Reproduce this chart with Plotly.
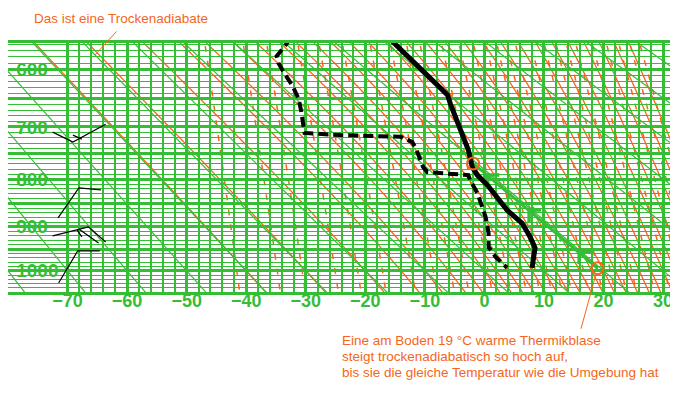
import numpy as np
import plotly.graph_objects as go

KAPPA = 0.286

# ---------------- data ----------------
# measured temperature profile (solid black)
temp_T = [-16.1, -10.4, -6.2, -5.7, -2.7, -2.05, -1.2, 0.5, 3.8, 6.3, 7.7, 8.5, 8.0]
temp_p = [550, 601, 643, 659, 743, 776, 792, 812, 864, 892, 923, 947, 993]

# dew point profile (dashed black)
dew_T = [-32.5, -33.1, -34.9, -34.6, -33.7, -32.2, -31.2, -30.8, -30.2, -24.2, -14.1,
         -12.1, -11.4, -10.3, -9.6, -2.7, -2.4, -1.2, 0.2, 0.7, 0.7, 1.9, 3.8]
dew_p = [550, 558, 579, 590, 605, 628, 650, 670, 711, 715, 718,
         728, 743, 776, 786, 792, 802, 828, 879, 914, 945, 968, 993]

# rising thermal (green arrow line) and its two marked points
parcel_T = [19.0, -1.9]
parcel_p = [994, 769]
# corners of the three arrow heads along the parcel line
arrow_T = [15.9, 7.5, 0.5]
arrow_p = [957, 864, 792]

# wind barbs (thin black polylines)
barb_T = [[-72.5, -69.1, -63.6], [-69.1, -67.6],
          [-71.6, -68.1, -64.4],
          [-72.5, -66.5, -63.6], [-68.1, -64.8], [-68.4, -67.6],
          [-71.5, -68.3, -64.6]]
barb_p = [[709.5, 728, 695], [715, 722.4],
          [880.6, 817.6, 821.7],
          [920.1, 900.3, 933.6], [904.7, 935.8], [906.9, 922.4],
          [1029, 954, 954]]

# axes
x_ticks = [-70, -60, -50, -40, -30, -20, -10, 0, 10, 20, 30]
p_labels = [600, 700, 800, 900, 1000]
p_major = list(range(550, 1051, 50))
p_minor = [p for p in range(560, 1050, 10) if p % 50]

# diagram reference lines
dry_theta_C = list(range(-80, 101, 10))
moist_T1000 = [-40, -30, -20, -14, -10, -6, -3, 0, 2, 4, 6, 8, 10, 12, 14, 16, 18,
               20, 22, 24, 26, 28, 30, 32, 34, 36, 38, 40]
mixing_ratio = [0.1, 0.2, 0.3, 0.5, 0.7, 1, 1.5, 2, 2.5, 3, 4, 5, 6, 7, 8, 9, 10,
                12, 14, 16, 18, 20, 24, 28, 32, 36, 40]

note_T, note_p = -65.4, 577   # point on the dry adiabat the label points at

GREEN = "#35bd35"
ORANGE = "#f5661c"
FONT = "Liberation Sans"

X_RANGE = [-80, 32]
Y_RANGE = [7.3142, 6.1034]


def Y(p):
    return np.asarray(p, dtype=float) ** KAPPA


# ---------------- thermodynamics for the background lines ----------------
def sat_mix(Tk, p):
    e = 6.112 * np.exp(17.67 * (Tk - 273.15) / (Tk - 29.65))
    return 0.622 * e / (p - e)


def dTdp(Tk, p):
    rs = sat_mix(Tk, p)
    return (287.04 * Tk + 2.501e6 * rs) / p / (1005.7 + 2.501e6 ** 2 * rs * 0.622 / (287.04 * Tk ** 2))


def moist_line(T1000):
    out = {}
    for p_end, h in ((540.0, -2.0), (1060.0, 2.0)):
        T, p = T1000 + 273.15, 1000.0
        out[p] = T
        while (p > p_end) if h < 0 else (p < p_end):
            k1 = dTdp(T, p)
            k2 = dTdp(T + h * k1 / 2, p + h / 2)
            k3 = dTdp(T + h * k2 / 2, p + h / 2)
            k4 = dTdp(T + h * k3, p + h)
            T += h * (k1 + 2 * k2 + 2 * k3 + k4) / 6
            p += h
            out[p] = T
    ps = np.array(sorted(out))
    Ts = np.array([out[q] for q in ps]) - 273.15
    return Ts, ps


def path(Ts, ps):
    ys = Y(ps)
    return "M" + " L".join(f"{t:.4f},{y:.5f}" for t, y in zip(Ts, ys))


shapes = []
p_line = np.arange(540, 1062, 4.0)
# mixing ratio lines (dashed orange)
for w in mixing_ratio:
    e = w * p_line / (622.0 + w)
    le = np.log(e / 6.112)
    Td = 243.5 * le / (17.67 - le)
    shapes.append(dict(type="path", xref="x", yref="y", layer="below", path=path(Td, p_line),
                       line=dict(color=ORANGE, width=1.5, dash="6px,9px")))
# moist adiabats (orange)
for t0 in moist_T1000:
    Ts, ps = moist_line(t0)
    shapes.append(dict(type="path", xref="x", yref="y", layer="below", path=path(Ts, ps),
                       line=dict(color=ORANGE, width=1.3)))
# dry adiabats (green, straight in this diagram)
for th in dry_theta_C:
    pe = np.array([540.0, 1060.0])
    Ts = (th + 273.15) * (pe / 1000.0) ** KAPPA - 273.15
    shapes.append(dict(type="path", xref="x", yref="y", layer="below", path=path(Ts, pe),
                       line=dict(color=GREEN, width=1.2)))

# ---------------- page geometry ----------------
OFF = 8          # the page places the figure 8 px from the window corner
W, H = 670, 392
L, R, T, B = 0, 3, 35, 108
pw, ph = W - L - R, H - T - B
deg_per_px = (X_RANGE[1] - X_RANGE[0]) / pw
P_per_px = (Y_RANGE[0] - Y_RANGE[1]) / ph

fig = go.Figure()

# wind barbs
bx, by = [], []
for ts, ps in zip(barb_T, barb_p):
    bx += ts + [None]
    by += list(Y(ps)) + [None]
fig.add_trace(go.Scatter(x=bx, y=by, mode="lines", line=dict(color="black", width=1.2),
                         hoverinfo="skip"))

# parcel (dry adiabatic ascent)
fig.add_trace(go.Scatter(x=parcel_T, y=Y(parcel_p), mode="lines",
                         line=dict(color=GREEN, width=3), hoverinfo="skip"))
# arrow heads: right arm and downward arm from each corner (12 px each)
ARM = 12
hx, hy = [], []
for t, p in zip(arrow_T, arrow_p):
    yc = float(Y(p))
    hx += [t + ARM * deg_per_px, t, t, None]
    hy += [yc, yc, yc + ARM * P_per_px, None]
fig.add_trace(go.Scatter(x=hx, y=hy, mode="lines", line=dict(color=GREEN, width=3.5),
                         hoverinfo="skip"))
# dew point
fig.add_trace(go.Scatter(x=dew_T, y=Y(dew_p), mode="lines",
                         line=dict(color="black", width=4, dash="10px,5px"), hoverinfo="skip"))
# temperature
fig.add_trace(go.Scatter(x=temp_T, y=Y(temp_p), mode="lines",
                         line=dict(color="black", width=5), hoverinfo="skip"))
# circles
fig.add_trace(go.Scatter(x=parcel_T, y=Y(parcel_p), mode="markers",
                         marker=dict(symbol="circle-open", size=12, color=ORANGE,
                                     line=dict(width=2, color=ORANGE)), hoverinfo="skip"))

annotations = []
# leader lines
annotations.append(dict(x=note_T, y=float(Y(note_p)), xref="x", yref="y", ax=23, ay=-25,
                        text="", showarrow=True, arrowhead=0, arrowwidth=1, arrowcolor=ORANGE))
annotations.append(dict(x=parcel_T[0], y=float(Y(parcel_p[0])), xref="x", yref="y", ax=-17,
                        ay=62, text="", showarrow=True, arrowhead=0, arrowwidth=1,
                        arrowcolor=ORANGE, standoff=8))


def px(xa):
    return (xa - OFF - L) / pw


def py(ya):
    return (H - B - (ya - OFF)) / ph


text_font = dict(family=FONT, size=13.5, color=ORANGE)
annotations.append(dict(x=px(32), y=py(19), xref="paper", yref="paper", xanchor="left",
                        yanchor="middle", text="Das ist eine Trockenadiabate",
                        showarrow=False, font=text_font))
for yy, line in zip([340, 356, 372], ["Eine am Boden 19 °C warme Thermikblase",
                                      "steigt trockenadiabatisch so hoch auf,",
                                      "bis sie die gleiche Temperatur wie die Umgebung hat"]):
    annotations.append(dict(x=px(340), y=py(yy), xref="paper", yref="paper", xanchor="left",
                            yanchor="middle", text=line, showarrow=False, font=text_font))

fig.update_layout(
    width=W, height=H, margin=dict(l=L, r=R, t=T, b=B, pad=0),
    paper_bgcolor="white", plot_bgcolor="white", showlegend=False,
    shapes=shapes, annotations=annotations, hovermode=False,
    xaxis=dict(range=X_RANGE, tickvals=x_ticks, ticks="", showgrid=True, gridcolor=GREEN,
               gridwidth=3, zeroline=False, showline=True, mirror=True, linecolor=GREEN,
               linewidth=3, ticklabelstandoff=-10,
               tickfont=dict(family=FONT, size=18, color=GREEN, weight="bold"),
               minor=dict(tick0=-80, dtick=2, showgrid=True, gridcolor=GREEN, gridwidth=2)),
    yaxis=dict(range=Y_RANGE, tickmode="array", tickvals=list(Y(p_major)),
               ticktext=[str(p) if p in p_labels else "" for p in p_major],
               ticks="", showgrid=True, gridcolor=GREEN, gridwidth=3, zeroline=False,
               showline=True, mirror=True, linecolor=GREEN, linewidth=3,
               ticklabelposition="inside", ticklabelstandoff=9,
               tickfont=dict(family=FONT, size=19, color=GREEN, weight="bold"),
               minor=dict(tickmode="array", tickvals=list(Y(p_minor)), showgrid=True,
                          gridcolor=GREEN, gridwidth=1)),
)

fig.write_html("out.html")
